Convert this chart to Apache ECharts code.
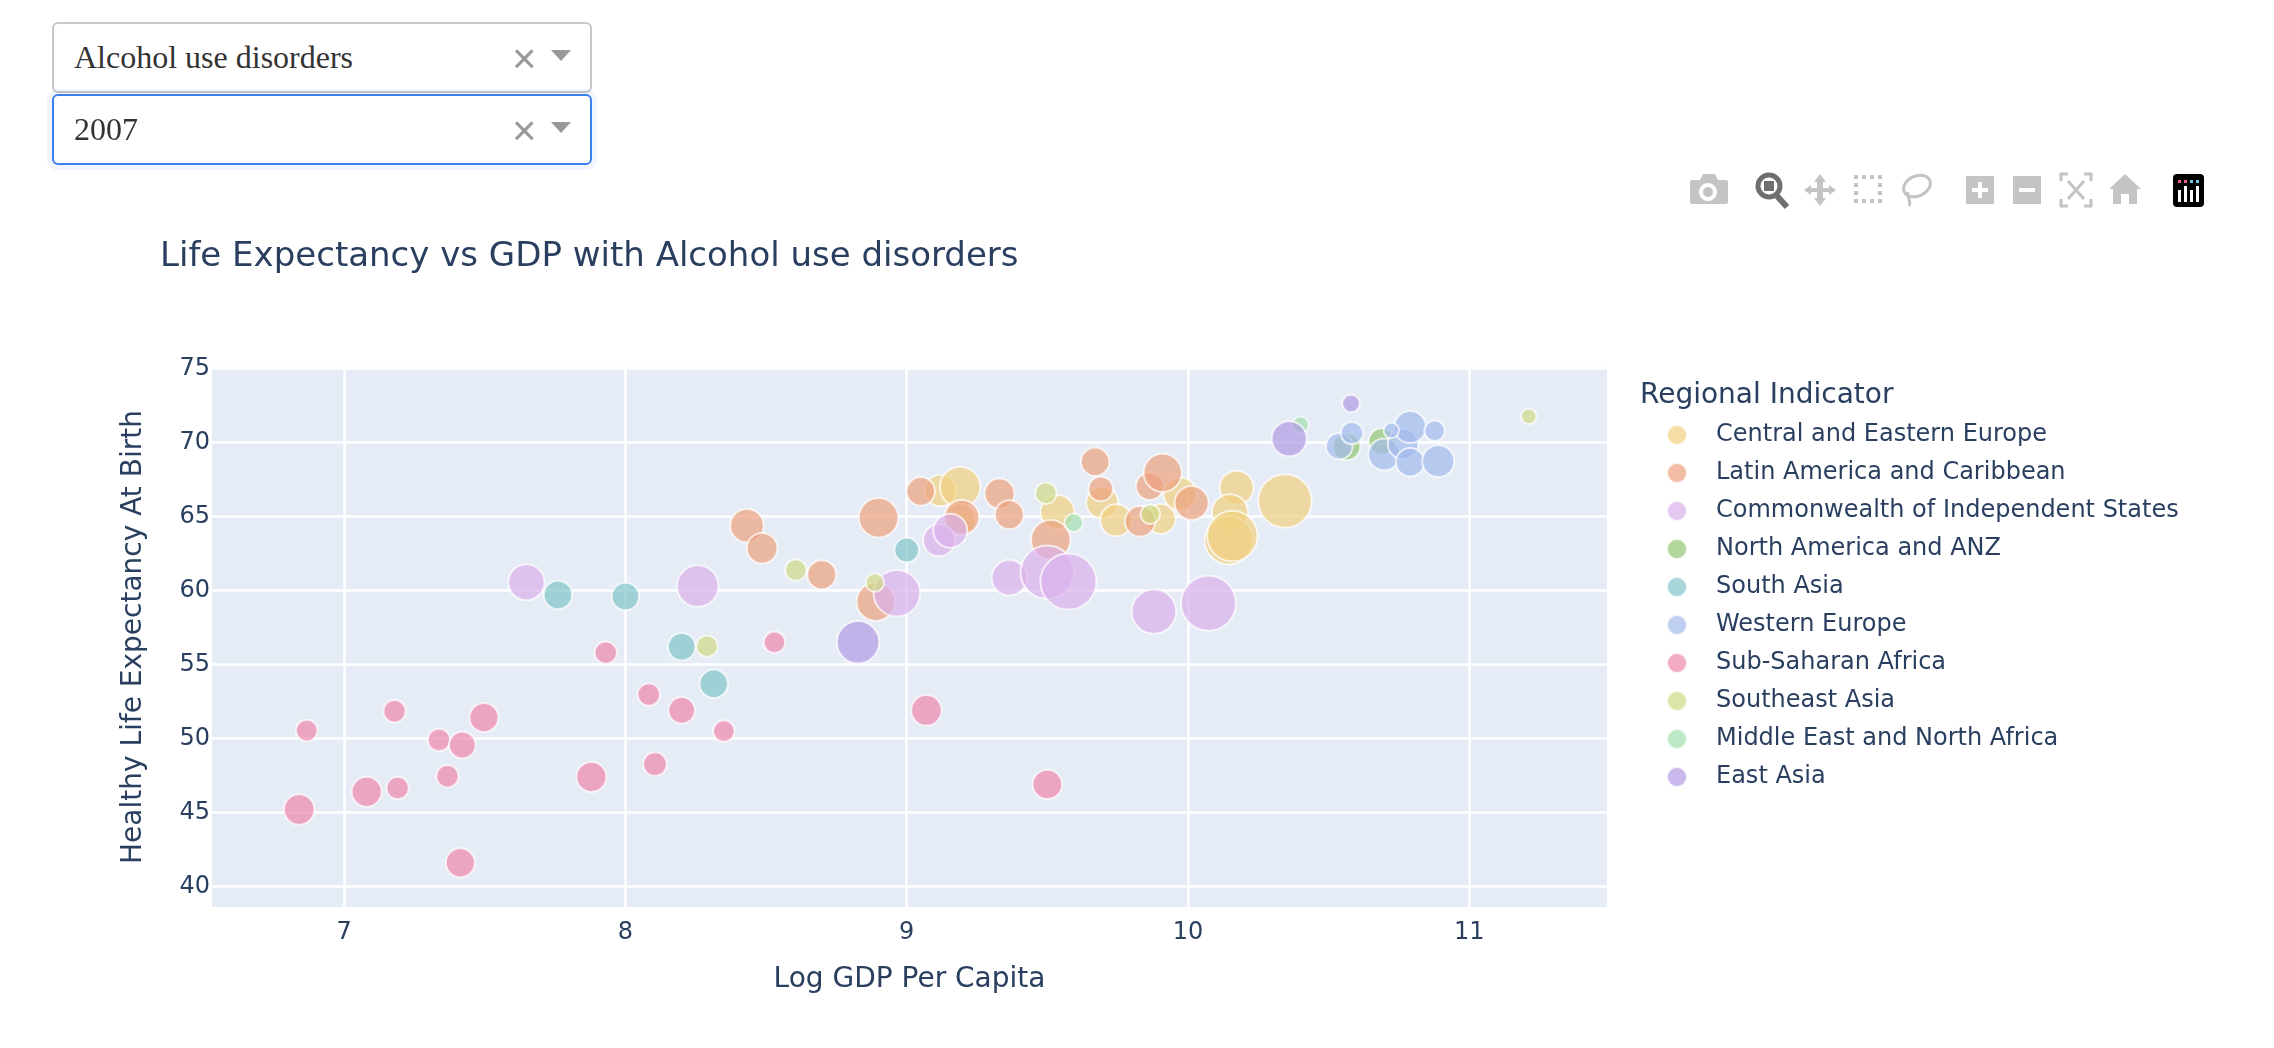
<!DOCTYPE html>
<html><head><meta charset="utf-8">
<script src="https://cdn.jsdelivr.net/npm/echarts@6/dist/echarts.min.js"></script>
<style>
html,body{margin:0;padding:0;background:#fff;overflow:hidden}
#chart{position:absolute;left:0;top:0;width:2274px;height:1048px}
.dd{position:absolute;left:52px;width:540px;height:71px;box-sizing:border-box;background:#fff;border:2px solid #c8c8c8;border-radius:6px;font:32px "Liberation Serif",serif;color:#333;line-height:67px;padding-left:20px}
.dd.focus{border:2px solid #3b82f0;box-shadow:0 0 0 5px rgba(59,130,240,.07)}
.dd .x{position:absolute;left:458px;top:0;font:42px "Liberation Sans",sans-serif;color:#999;line-height:70px}
.dd .c{position:absolute;left:497px;top:26px;width:0;height:0;border-left:10px solid transparent;border-right:10px solid transparent;border-top:11px solid #999}
#bar{position:absolute;left:0;top:0;width:2274px;height:300px;pointer-events:none}
</style></head><body>
<div id="chart"></div>
<div class="dd" style="top:22px">Alcohol use disorders<span class="x">×</span><span class="c"></span></div>
<div class="dd focus" style="top:94px">2007<span class="x">×</span><span class="c"></span></div>
<svg id="bar" viewBox="0 0 2274 300">
 <g fill="#c4c4c4">
  <path d="M1692 180h8l3-6h12l3 6h8a2 2 0 0 1 2 2v20a2 2 0 0 1-2 2h-34a2 2 0 0 1-2-2v-20a2 2 0 0 1 2-2z M1708 183a9 9 0 1 0 .01 0z M1708 187a5 5 0 1 1-.01 0z" fill-rule="evenodd"/>
  <path d="M1804 190l7-5v3h6v-6h-3l6-8 6 8h-3v6h6v-3l7 5-7 5v-3h-6v6h3l-6 8-6-8h3v-6h-6v3z"/>
  <path d="M1854 175h4v4h-4zM1862 175h4v4h-4zM1870 175h4v4h-4zM1878 175h4v4h-4zM1854 183h4v4h-4zM1878 183h4v4h-4zM1854 191h4v4h-4zM1878 191h4v4h-4zM1854 199h4v4h-4zM1862 199h4v4h-4zM1870 199h4v4h-4zM1878 199h4v4h-4z"/>
  <path d="M1966 176h28v28h-28z M1978 182v6h-6v4h6v6h4v-6h6v-4h-6v-6z" fill-rule="evenodd"/>
  <path d="M2013 176h28v28h-28z M2019 188v4h16v-4z" fill-rule="evenodd"/>
  <path d="M2125 174l16 15h-4v15h-8v-10h-8v10h-8v-15h-4z"/>
 </g>
 <ellipse cx="1917" cy="186" rx="14" ry="10" transform="rotate(-25 1917 186)" fill="none" stroke="#c4c4c4" stroke-width="3"/>
 <path d="M1908 192c-2 6 4 8 1 14" fill="none" stroke="#c4c4c4" stroke-width="3"/>
 <path d="M2061 181v-7h7M2084 174h7v7M2091 199v7h-7M2068 206h-7v-7M2068 181l16 18M2084 181l-16 18" fill="none" stroke="#c4c4c4" stroke-width="3"/>
 <circle cx="1769" cy="186" r="11" fill="none" stroke="#6f6f6f" stroke-width="5"/>
 <rect x="1764" y="181" width="10" height="10" fill="#6f6f6f"/>
 <path d="M1777 196l10 11" stroke="#6f6f6f" stroke-width="6" fill="none"/>
 <rect x="2173" y="174" width="31" height="33" rx="4" fill="#000"/>
 <g fill="#fff"><rect x="2178" y="190" width="3" height="12"/><rect x="2184" y="186" width="3" height="16"/><rect x="2190" y="190" width="3" height="12"/><rect x="2196" y="186" width="3" height="16"/></g>
 <g fill="#ef5d8f"><rect x="2178" y="180" width="3" height="3"/><rect x="2184" y="180" width="3" height="3"/></g>
 <g fill="#6fc8e8"><rect x="2190" y="180" width="3" height="3"/><rect x="2196" y="180" width="3" height="3"/></g>
</svg>
<script>
// [log GDP per capita, healthy life expectancy, alcohol use disorders (relative)]
const centralEasternEurope = [[9.12,66.75,96],[9.19,67.0,160],[9.19,64.8,96],[9.536,65.3,112],[9.695,65.94,99],[9.745,64.74,99],[9.903,64.83,86],[9.972,66.52,106],[10.173,66.95,112],[10.149,65.28,127],[10.345,66.05,281],[10.145,63.4,230],[10.158,63.68,250]];
const latinAmericaCaribbean = [[8.432,64.38,109],[8.486,62.86,90],[8.698,61.06,81],[8.9,64.92,152],[8.89,59.24,144],[9.05,66.7,78],[9.196,64.94,119],[9.33,66.55,87],[9.365,65.12,80],[9.512,63.43,152],[9.67,68.7,78],[9.69,66.86,58],[9.864,67.04,73],[9.91,67.95,142],[9.83,64.67,90],[10.013,65.91,112]];
const commonwealthIndependent = [[7.648,60.56,127],[8.257,60.3,168],[8.965,59.82,212],[9.365,60.86,122],[9.5,61.24,281],[9.575,60.6,308],[9.879,58.58,194],[10.073,59.14,297],[9.115,63.39,99],[9.155,64.04,112]];
const northAmericaANZ = [[10.564,69.73,73],[10.69,70.07,68]];
const southAsia = [[7.76,59.7,78],[8.0,59.6,73],[8.2,56.2,73],[8.314,53.7,78],[9.0,62.73,58]];
const westernEurope = [[10.538,69.75,68],[10.583,70.63,48],[10.698,69.19,99],[10.765,69.9,90],[10.79,68.67,78],[10.79,71.04,99],[10.723,70.81,22],[10.877,70.79,40],[10.89,68.74,99]];
const subSaharanAfrica = [[6.867,50.54,44],[7.179,51.84,48],[7.497,51.42,81],[7.337,49.9,48],[7.42,49.55,68],[7.367,47.45,48],[7.08,46.4,87],[7.19,46.65,48],[6.84,45.2,90],[7.413,41.6,81],[7.879,47.4,87],[8.105,48.27,53],[7.93,55.8,48],[8.083,52.97,48],[8.2,51.9,68],[8.35,50.5,44],[8.53,56.5,44],[9.07,51.9,90],[9.5,46.9,84]];
const southeastAsia = [[8.606,61.38,44],[8.29,56.24,44],[8.887,60.53,32],[9.495,66.57,44],[9.866,65.15,36],[11.212,71.76,22]];
const middleEastNorthAfrica = [[9.594,64.58,32],[10.4,71.2,26]];
const eastAsia = [[8.827,56.5,176],[10.36,70.25,119],[10.58,72.64,29]];

const regionNames = ["Central and Eastern Europe","Latin America and Caribbean","Commonwealth of Independent States","North America and ANZ","South Asia","Western Europe","Sub-Saharan Africa","Southeast Asia","Middle East and North Africa","East Asia"];
const regionData = [centralEasternEurope,latinAmericaCaribbean,commonwealthIndependent,northAmericaANZ,southAsia,westernEurope,subSaharanAfrica,southeastAsia,middleEastNorthAfrica,eastAsia];
const regionColors = ["#F1D080","#ECA17E","#DAB1EB","#91C670","#80C4C7","#A2BAEC","#EE87AE","#D0DA88","#A1E0AE","#B29BE4"];
const xTicks = [7,8,9,10,11];
const yTicks = [40,45,50,55,60,65,70,75];

const FONT = '"DejaVu Sans", Verdana, sans-serif';
const INK = '#2a3f5f';
const chart = echarts.init(document.getElementById('chart'), null, {renderer:'canvas'});
chart.setOption({
  animation:false,
  backgroundColor:'#fff',
  title:[
    {text:'Life Expectancy vs GDP with Alcohol use disorders',left:160,top:240,padding:0,textStyle:{color:INK,fontSize:34,fontWeight:'normal',fontFamily:FONT}},
    {text:'Regional Indicator',left:1640,top:382,padding:0,textStyle:{color:INK,fontSize:28,fontWeight:'normal',fontFamily:FONT}}
  ],
  legend:{
    orient:'vertical',left:1666,top:423,padding:0,itemWidth:68,itemHeight:20,itemGap:14,
    icon:'circle',
    data:regionNames,
    textStyle:{color:INK,fontSize:24,fontFamily:FONT},
    selectedMode:false
  },
  grid:{left:212,right:667,top:367,bottom:141,containLabel:false,backgroundColor:'#E5ECF6',show:true,borderWidth:0},
  xAxis:{
    type:'value',min:6.53,max:11.49,
    name:'Log GDP Per Capita',nameLocation:'middle',nameGap:59,
    nameTextStyle:{color:INK,fontSize:28,fontFamily:FONT},
    axisLine:{show:false},
    axisTick:{show:false,customValues:xTicks},
    axisLabel:{customValues:xTicks,color:INK,fontSize:24,fontFamily:FONT,margin:14,formatter:v=>String(v)},
    splitLine:{show:true,lineStyle:{color:'#fff',width:2.5}}
  },
  yAxis:{
    type:'value',min:38.615,max:75.1,
    name:'Healthy Life Expectancy At Birth',nameLocation:'middle',nameGap:64,nameRotate:90,
    nameTextStyle:{color:INK,fontSize:28,fontFamily:FONT},
    axisLine:{show:false},
    axisTick:{show:false,customValues:yTicks},
    axisLabel:{customValues:yTicks,color:INK,fontSize:24,fontFamily:FONT,margin:2,padding:[6,0,0,0],formatter:v=>String(v)},
    splitLine:{show:true,lineStyle:{color:'#fff',width:2.5}}
  },
  series:regionNames.map((name,i)=>({
    type:'scatter',name,data:regionData[i],
    symbolSize:d=>Math.sqrt(d[2]*10)+0.5,
    itemStyle:{color:regionColors[i],opacity:0.7,borderColor:'#fff',borderWidth:2},
    emphasis:{disabled:true}
  }))
});
</script>
</body></html>
